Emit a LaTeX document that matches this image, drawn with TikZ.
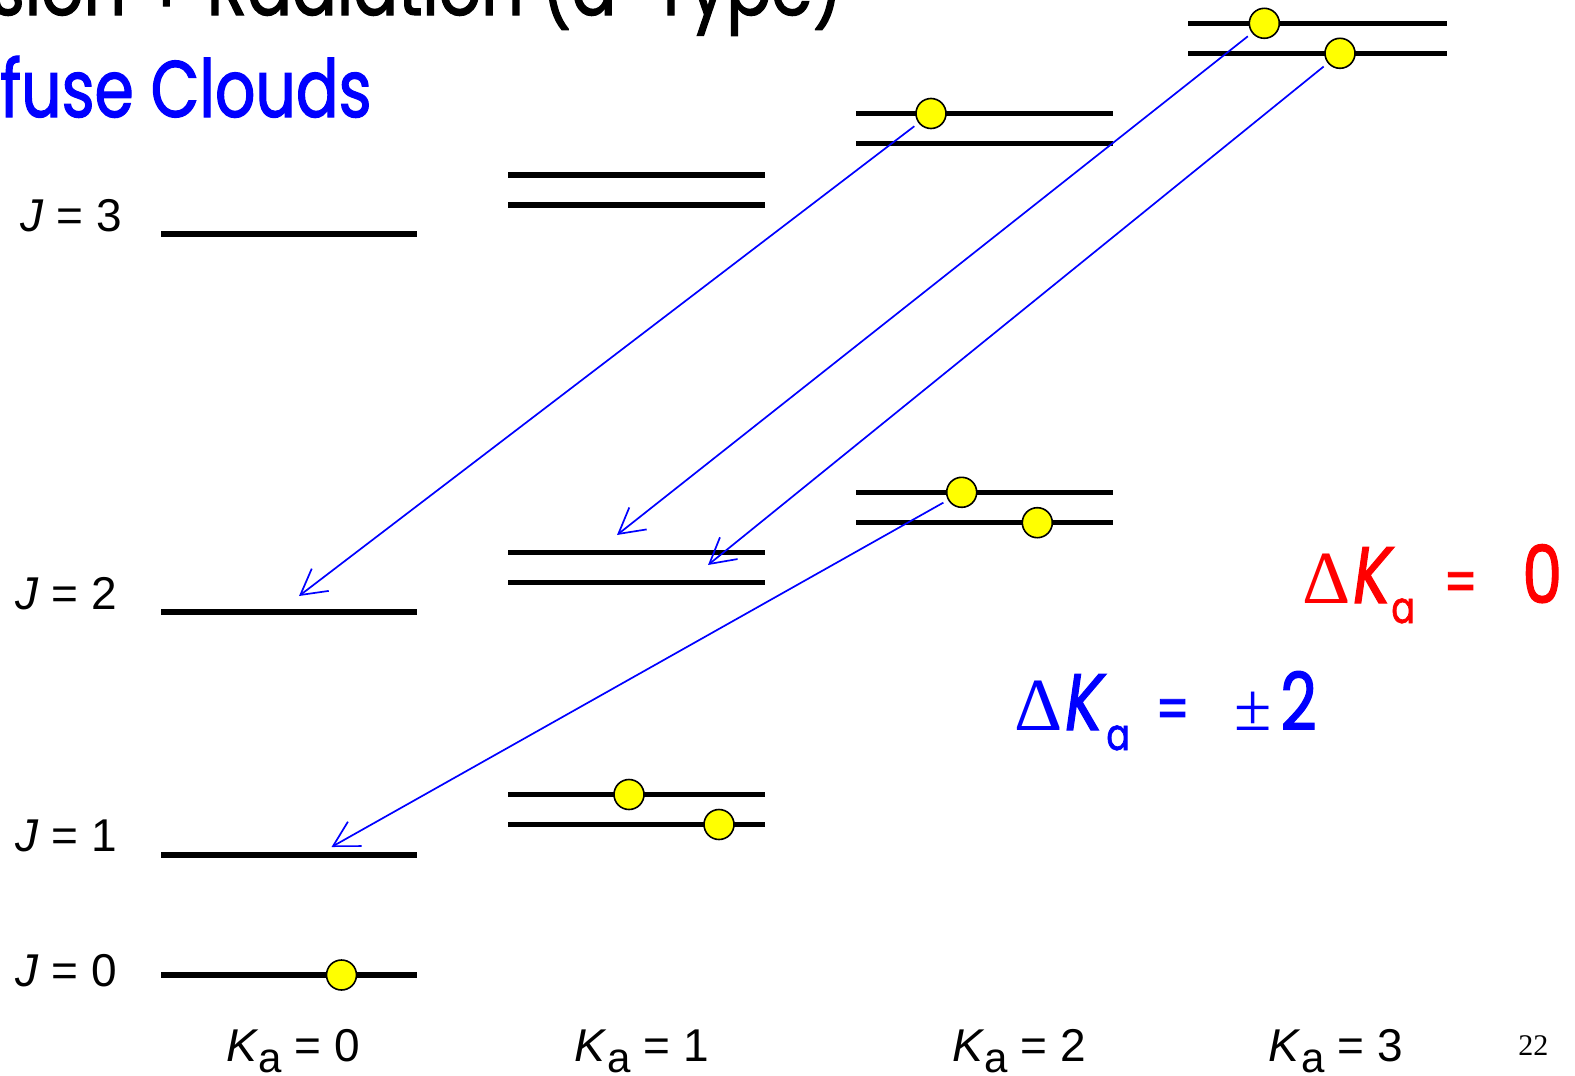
\documentclass[tikz,border=0pt]{standalone}
\usepackage{fontspec}
\setmainfont{Liberation Sans}
\newfontfamily\comic[FakeStretch=0.79,FakeBold=1.5]{Poppins}
\newfontfamily\comict[FakeStretch=0.83,FakeBold=1.5]{Poppins}
\newfontfamily\tms{Liberation Serif}
\usetikzlibrary{arrows.meta}
\definecolor{pblue}{RGB}{0,0,255}
\definecolor{pred}{RGB}{255,0,0}
\definecolor{pyel}{RGB}{255,255,0}
\newcommand\putat[2]{\makebox[0pt][l]{\hspace{#1}#2}}
\tikzset{
 lvl/.style={line width=2.6pt},
 dot/.style={circle, fill=pyel, draw=black, line width=0.8pt, minimum size=15pt, inner sep=0pt, outer sep=0pt},
 trans/.style={draw=pblue, line width=0.85pt, shorten <=3pt, -{Straight Barb[length=12.5pt,width=14pt,line width=0.85pt]}},
 lab/.style={font=\fontsize{23}{26}\selectfont, inner sep=0pt, anchor=base west},
 big/.style={font=\comic\fontsize{40}{44}\selectfont, inner sep=0pt},
 rule/.style={anchor=base west, inner sep=0pt},
}
\begin{document}
\begin{tikzpicture}[x=0.5pt,y=-0.5pt]
\useasboundingbox (0,0) rectangle (1575,1076);
\clip (0,0) rectangle (1575,1076);
% titles (cut off at the page edge, as in the reference)
\node[big, font=\comict\fontsize{40}{44}\selectfont, anchor=base east] (ttl) at (843,15) {sion + Radiation (a-Type)};
\node[big, anchor=base east, text=pblue] (sub) at (372,117) {fuse Clouds};
% K_a = 0
\draw[lvl] (161,234) -- (417,234);
\draw[lvl] (161,612) -- (417,612);
\draw[lvl] (161,855) -- (417,855);
\draw[lvl] (161,975) -- (417,975);
% K_a = 1
\draw[lvl] (508,175) -- (765,175);
\draw[lvl] (508,205) -- (765,205);
\draw[lvl] (508,552.5) -- (765,552.5);
\draw[lvl] (508,582.5) -- (765,582.5);
\draw[lvl] (508,794.5) -- (765,794.5);
\draw[lvl] (508,824.5) -- (765,824.5);
% K_a = 2
\draw[lvl] (856,113.5) -- (1113,113.5);
\draw[lvl] (856,143.5) -- (1113,143.5);
\draw[lvl] (856,492.3) -- (1113,492.3);
\draw[lvl] (856,522.7) -- (1113,522.7);
% K_a = 3
\draw[lvl] (1188,23.3) -- (1447,23.3);
\draw[lvl] (1188,53.3) -- (1447,53.3);
% populations
\node[dot] (d00) at (341.5,975) {};
\node[dot] (d11a) at (629,794.5) {};
\node[dot] (d11b) at (719,824.5) {};
\node[dot] (d22a) at (961.7,492.3) {};
\node[dot] (d22b) at (1037.3,522.7) {};
\node[dot] (d32) at (931,113.5) {};
\node[dot] (d33a) at (1264.3,23.3) {};
\node[dot] (d33b) at (1340,53.3) {};
% transition end points
\coordinate (t1) at (299,596);
\coordinate (t2) at (617,535);
\coordinate (t3) at (708,565);
\coordinate (t4) at (331.5,847);
\draw[trans] (d32) -- (t1);
\draw[trans] (d33a) -- (t2);
\draw[trans] (d33b) -- (t3);
\draw[trans] (d22a) -- (t4);
% J labels
\node[lab] (j3) at (20,231) {\textit{J} = 3};
\node[lab] (j2) at (15,609) {\textit{J} = 2};
\node[lab] (j1) at (15,851) {\textit{J} = 1};
\node[lab] (j0) at (15,986) {\textit{J} = 0};
% K_a labels
\node[lab] (k0) at (226,1061) {\textit{K}\raisebox{-5.5pt}{\fontsize{21}{21}\selectfont a} = 0};
\node[lab] (k1) at (574.5,1061) {\textit{K}\raisebox{-5.5pt}{\fontsize{21}{21}\selectfont a} = 1};
\node[lab] (k2) at (952,1061) {\textit{K}\raisebox{-5.5pt}{\fontsize{21}{21}\selectfont a} = 2};
\node[lab] (k3) at (1268.5,1061) {\textit{K}\raisebox{-5.5pt}{\fontsize{21}{21}\selectfont a} = 3};
\node[font=\tms\fontsize{15}{15}\selectfont, anchor=base west, inner sep=0pt] (pg) at (1518,1055) {22};
% selection rules
\node[rule, text=pred] (r0) at (1301,603)
 {\putat{0pt}{\tms\fontsize{37.5}{40}\selectfont Δ}%
  \putat{25.5pt}{\comic\itshape\fontsize{40}{40}\selectfont K}%
  \putat{44.5pt}{\raisebox{-10pt}{\comic\fontsize{22}{22}\selectfont a}}%
  \putat{70.5pt}{\comic\fontsize{30}{30}\selectfont =}%
  \putat{110pt}{\comic\fontsize{40}{40}\selectfont 0}%
  \hspace{131pt}};
\node[rule, text=pblue] (r2) at (1013,730)
 {\putat{0pt}{\tms\fontsize{37.5}{40}\selectfont Δ}%
  \putat{25.5pt}{\comic\itshape\fontsize{40}{40}\selectfont K}%
  \putat{46pt}{\raisebox{-10pt}{\comic\fontsize{22}{22}\selectfont a}}%
  \putat{70.5pt}{\comic\fontsize{30}{30}\selectfont =}%
  \putat{110pt}{\tms\fontsize{34}{34}\selectfont ±}%
  \putat{133pt}{\comic\fontsize{40}{40}\selectfont 2}%
  \hspace{151pt}};
\end{tikzpicture}
\end{document}
